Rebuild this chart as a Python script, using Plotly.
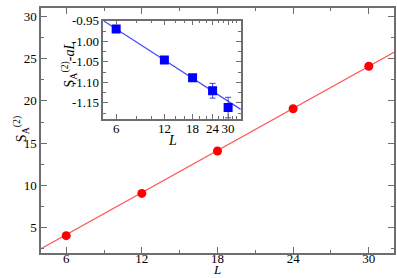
import plotly.graph_objects as go

# Main panel data
L_main = [6, 12, 18, 24, 30]
S2_main = [4.05, 9.05, 14.07, 19.08, 24.1]
fit_main_L = [4, 32]
fit_main_S = [2.5, 25.76]

# Inset data
L_inset = [6, 12, 18, 24, 30]
S2_minus_aL = [-0.970, -1.0455, -1.089, -1.1206, -1.1616]
S2_err = [0.004, 0.003, 0.006, 0.018, 0.025]
fit_inset_L = [5, 36]
fit_inset_S = [-0.950, -1.166]

main_ticks = [6, 12, 18, 24, 30]
main_yticks = [5, 10, 15, 20, 25, 30]
inset_xticks = [6, 12, 18, 24, 30]
inset_xminor = [8, 10, 14, 16, 20, 22, 26, 28, 32, 34]
inset_yticks = [-0.95, -1.00, -1.05, -1.10, -1.15]
inset_yticklabels = ["-0.95", "-1.00", "-1.05", "-1.10", "-1.15"]

FONT = "Liberation Serif, Times New Roman, DejaVu Serif, serif"
AXC = "#6e6e6e"

fig = go.Figure()
fig.add_trace(go.Scatter(x=fit_main_L, y=fit_main_S, mode="lines",
                         line=dict(color="#ff5a5a", width=1.2), showlegend=False))
fig.add_trace(go.Scatter(x=L_main, y=S2_main, mode="markers",
                         marker=dict(color="#ff0000", size=9, symbol="circle"), showlegend=False))
fig.add_trace(go.Scatter(x=fit_inset_L, y=fit_inset_S, mode="lines", xaxis="x2", yaxis="y2",
                         line=dict(color="#4a4aff", width=1.2), showlegend=False))
fig.add_trace(go.Scatter(x=L_inset, y=S2_minus_aL, mode="markers", xaxis="x2", yaxis="y2",
                         marker=dict(color="#0000ff", size=9, symbol="square"),
                         error_y=dict(type="data", array=S2_err, color="#3c3cff", thickness=1, width=3),
                         showlegend=False))

common = dict(showline=True, linecolor=AXC, linewidth=1.5, mirror="allticks", ticks="inside",
              tickcolor=AXC, showgrid=False, zeroline=False,
              tickfont=dict(family=FONT, size=13, color="black"))

fig.update_layout(
    width=397, height=278,
    margin=dict(l=41, r=1, t=2, b=25),
    plot_bgcolor="white", paper_bgcolor="white",
    font=dict(family=FONT, color="black"),
    xaxis=dict(range=[4, 32], tickvals=main_ticks, ticklen=6, ticklabelstandoff=-7,
               minor=dict(tickvals=[9, 15, 21, 27], ticks="inside", ticklen=3, tickcolor=AXC),
               **common),
    yaxis=dict(range=[2, 31], tickvals=main_yticks, ticklen=6,
               minor=dict(tickvals=[2.5, 7.5, 12.5, 17.5, 22.5, 27.5], ticks="inside", ticklen=3, tickcolor=AXC),
               **common),
    xaxis2=dict(type="log", range=[0.69897, 1.5563], domain=[0.177, 0.566], anchor="y2",
                tickvals=inset_xticks, ticktext=[str(v) for v in inset_xticks], ticklen=5,
                ticklabelstandoff=-4,
                minor=dict(tickvals=inset_xminor, ticks="inside", ticklen=3, tickcolor=AXC),
                **common),
    yaxis2=dict(range=[-1.19, -0.95], domain=[0.546, 0.948], anchor="x2",
                tickvals=inset_yticks, ticktext=inset_yticklabels, ticklen=5,
                minor=dict(tickvals=[-0.975, -1.025, -1.075, -1.125, -1.175], ticks="inside", ticklen=3, tickcolor=AXC),
                **common),
    annotations=[
        dict(text="<i>L</i>", xref="paper", yref="paper", x=(218 - 41) / 355, y=0,
             yshift=-25, xanchor="center", yanchor="bottom", showarrow=False, borderpad=0,
             font=dict(family=FONT, size=13)),
        dict(text="<i>L</i>", xref="paper", yref="paper", x=(173 - 41) / 355, y=0.546,
             yshift=-13, xanchor="center", yanchor="top", showarrow=False, borderpad=0,
             font=dict(family=FONT, size=14)),
        dict(text="S<sub>A</sub><sup>(2)</sup>", xref="paper", yref="paper",
             x=(21 - 41) / 355, y=(253 - 126) / 251, textangle=-90,
             xanchor="center", yanchor="middle", showarrow=False,
             font=dict(family=FONT, size=14)),
        dict(text="S<sub>A</sub><sup>(2)</sup>-<i>aL</i>", xref="paper", yref="paper",
             x=(69 - 41) / 355, y=(253 - 60) / 251, textangle=-90,
             xanchor="center", yanchor="middle", showarrow=False,
             font=dict(family=FONT, size=14)),
    ],
)

fig.write_html("out.html", post_script="document.body.style.margin='0';",
               config={"displayModeBar": False})
